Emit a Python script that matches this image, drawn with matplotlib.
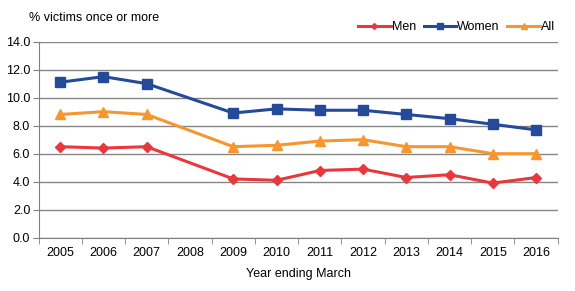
import numpy as np
import matplotlib
matplotlib.use("Agg")
import matplotlib.pyplot as plt

years = ["2005", "2006", "2007", "2008", "2009", "2010", "2011", "2012", "2013", "2014", "2015", "2016"]
men = [6.5, 6.4, 6.5, np.nan, 4.2, 4.1, 4.8, 4.9, 4.3, 4.5, 3.9, 4.3]
women = [11.1, 11.5, 11.0, np.nan, 8.9, 9.2, 9.1, 9.1, 8.8, 8.5, 8.1, 7.7]
all_ = [8.8, 9.0, 8.8, np.nan, 6.5, 6.6, 6.9, 7.0, 6.5, 6.5, 6.0, 6.0]
yticks = [0, 2, 4, 6, 8, 10, 12, 14]

plt.rcParams['font.family'] = ['Liberation Sans', 'DejaVu Sans']
fig = plt.figure(figsize=(5.75, 2.91), dpi=100)
ax = fig.add_axes([0.067, 0.183, 0.903, 0.674])

x = np.arange(len(years))
series = [("Men", men, "#E8383D", "D", 5),
          ("Women", women, "#254A9A", "s", 7.5),
          ("All", all_, "#F7962E", "^", 7.5)]
for name, vals, col, mk, ms in series:
    v = np.array(vals, dtype=float)
    m = ~np.isnan(v)
    ax.plot(x[m], v[m], color=col, lw=2.2, marker=mk, markersize=ms, label=name, zorder=3)

ax.set_xlim(-0.5, len(years) - 0.5)
ax.set_ylim(0, 14)
ax.set_yticks(yticks)
ax.set_yticklabels([f"{t:.1f}" for t in yticks])
ax.set_xticks(x)
ax.set_xticklabels(years)
ax.set_xticks(np.arange(-0.5, len(years)), minor=True)
ax.tick_params(axis='x', which='major', length=0, labelsize=9, pad=7)
ax.tick_params(axis='x', which='minor', length=4, color='#808080', direction='out')
ax.tick_params(axis='y', length=4, color='#808080', labelsize=9, pad=2)
ax.grid(axis='y', color='#868686', lw=1)
ax.set_axisbelow(True)
for s in ['top', 'right']:
    ax.spines[s].set_visible(False)
for s in ['left', 'bottom']:
    ax.spines[s].set_color('#808080')
ax.set_xlabel("Year ending March", fontsize=9, labelpad=6)
fig.text(0.05, 0.938, "% victims once or more", fontsize=9, ha='left', va='center')
leg = ax.legend(loc='upper right', bbox_to_anchor=(0.995, 1.105), ncol=3, frameon=False,
                fontsize=9, handlelength=2.6, columnspacing=0.6, handletextpad=0.1,
                markerscale=0.6, borderaxespad=0, borderpad=0)
fig.savefig("out.png", dpi=100)
